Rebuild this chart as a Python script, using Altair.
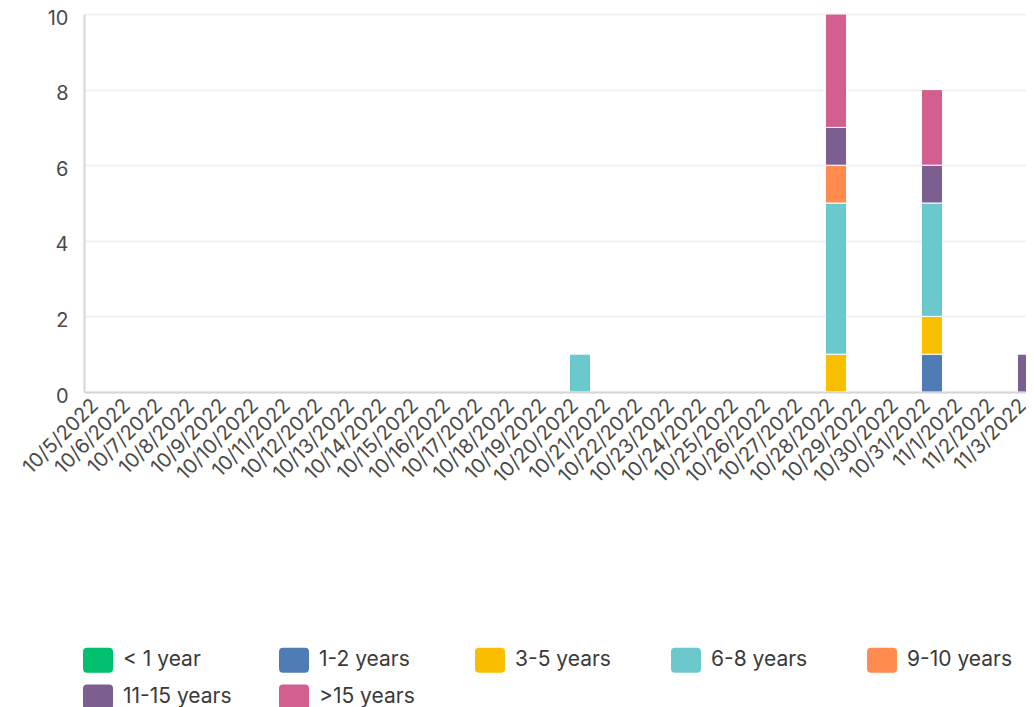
import altair as alt
import pandas as pd

# x-axis categories (all dates shown)
dates = [
    "10/5/2022", "10/6/2022", "10/7/2022", "10/8/2022", "10/9/2022",
    "10/10/2022", "10/11/2022", "10/12/2022", "10/13/2022", "10/14/2022",
    "10/15/2022", "10/16/2022", "10/17/2022", "10/18/2022", "10/19/2022",
    "10/20/2022", "10/21/2022", "10/22/2022", "10/23/2022", "10/24/2022",
    "10/25/2022", "10/26/2022", "10/27/2022", "10/28/2022", "10/29/2022",
    "10/30/2022", "10/31/2022", "11/1/2022", "11/2/2022", "11/3/2022",
]

groups = ["< 1 year", "1-2 years", "3-5 years", "6-8 years",
          "9-10 years", "11-15 years", ">15 years"]
group_colors = ["#00BF6F", "#507CB6", "#F9BE00", "#6BC8CD",
                "#FF8B4F", "#7D5E90", "#D25F90"]

# non-zero segments
seg_date = ["10/20/2022",
            "10/28/2022", "10/28/2022", "10/28/2022", "10/28/2022", "10/28/2022",
            "10/31/2022", "10/31/2022", "10/31/2022", "10/31/2022", "10/31/2022",
            "11/3/2022"]
seg_group = ["6-8 years",
             "3-5 years", "6-8 years", "9-10 years", "11-15 years", ">15 years",
             "1-2 years", "3-5 years", "6-8 years", "11-15 years", ">15 years",
             "11-15 years"]
seg_count = [1,
             1, 4, 1, 1, 3,
             1, 1, 3, 1, 2,
             1]

y_ticks = [0, 2, 4, 6, 8, 10]

df = pd.DataFrame({"date": seg_date, "group": seg_group, "count": seg_count})
df["ord"] = df["group"].map({g: i for i, g in enumerate(groups)})

FONT = "Inter"
TXT = "#4a4a4a"

legend_symbol = ("M-0.73,-0.833H0.73Q1,-0.833 1,-0.563V0.563Q1,0.833 0.73,0.833"
                 "H-0.73Q-1,0.833 -1,0.563V-0.563Q-1,-0.833 -0.73,-0.833Z")

chart = alt.Chart(df).mark_bar(stroke="white", strokeWidth=1, clip=True).encode(
    x=alt.X("date:N", sort=dates,
            scale=alt.Scale(domain=dates, range=[0, 960], paddingInner=0.34, paddingOuter=0.17),
            axis=alt.Axis(title=None, labelAngle=315, labelFont=FONT, labelFontSize=20,
                          labelColor=TXT, ticks=False, labelPadding=3, labelOffset=-12,
                          domainColor="#d6d6d6", domainWidth=2, grid=False)),
    y=alt.Y("count:Q", stack="zero",
            scale=alt.Scale(domain=[0, 10], nice=False),
            axis=alt.Axis(title=None, values=y_ticks, labelFont=FONT, labelFontSize=20,
                          labelColor=TXT, ticks=False, labelPadding=16, labelOffset=4,
                          domainColor="#d6d6d6", domainWidth=2,
                          gridColor="#ececec", gridWidth=1.5)),
    color=alt.Color("group:N",
                    scale=alt.Scale(domain=groups, range=group_colors),
                    legend=alt.Legend(title=None, orient="none", legendX=-1, legendY=631,
                                      direction="horizontal", columns=5, gridAlign="all",
                                      columnPadding=47, rowPadding=9,
                                      symbolType=legend_symbol, symbolSize=900,
                                      symbolStrokeWidth=0, symbolOpacity=1,
                                      labelFont=FONT, labelFontSize=21, labelColor="#3a3a3a",
                                      labelOffset=10, padding=0, labelLimit=300)),
    order=alt.Order("ord:Q", sort="ascending"),
).properties(
    width=942, height=378,
    autosize=alt.AutoSizeParams(type="none"),
    padding={"left": 76, "top": 6, "right": 0, "bottom": 315},
).configure_view(stroke=None)

chart.save("out.html", embed_options={"renderer": "svg", "actions": False})
